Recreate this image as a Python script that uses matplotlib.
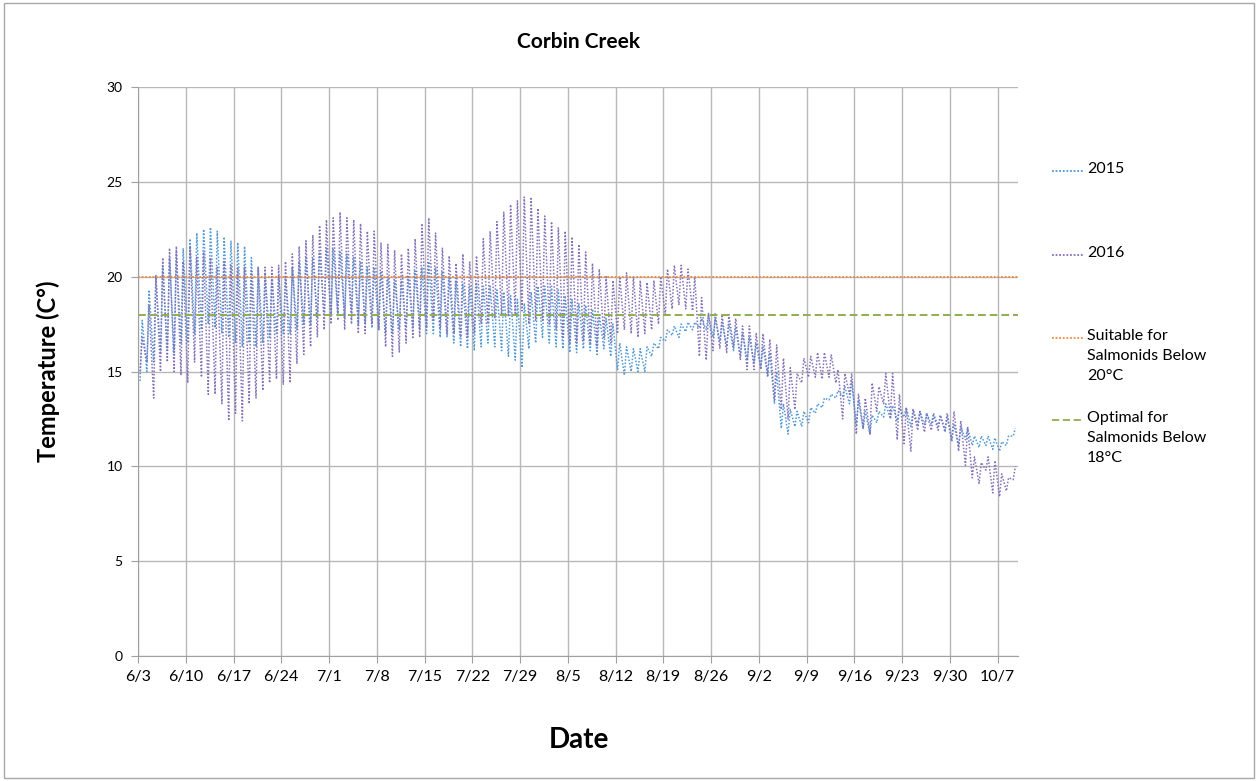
import matplotlib
matplotlib.use("Agg")
import matplotlib.pyplot as plt
import numpy as np
from matplotlib.lines import Line2D
from matplotlib.patches import Rectangle

plt.rcParams['font.family'] = ['Lato', 'DejaVu Sans']

# daily min / max temperatures (C), one value per day starting 6/3
# 2015
hi_2015 = [17.7, 19.3, 20.0, 20.5, 21.0, 21.3, 21.5, 22.0, 22.3, 22.5, 22.6, 22.4, 22.1, 21.9,
           21.8, 21.6, 21.0, 20.5, 20.2, 20.0, 20.0, 20.0, 20.5, 20.8, 21.0, 21.0, 21.3, 21.5,
           21.5, 21.3, 21.2, 21.0, 20.8, 20.5, 20.5, 20.3, 20.0, 19.8, 19.8, 20.0, 20.3, 20.5,
           20.8, 20.5, 20.3, 20.0, 19.8, 19.6, 19.5, 19.7, 19.5, 19.5, 19.3, 19.2, 19.0, 18.8,
           18.6, 19.2, 19.5,
           19.5, 19.5, 19.3, 19.0, 18.8, 18.6, 18.5, 18.3, 18.0, 17.8, 17.5, 16.5, 16.3, 16.2,
           16.2, 16.3, 16.5, 16.8, 17.2, 17.4, 17.5, 17.6, 17.6, 17.8, 18.0, 17.8, 17.6, 17.5,
           17.3, 17.0, 16.8,
           16.5, 16.3, 16.0, 15.0, 13.3, 13.0, 12.9, 12.9, 13.1, 13.3, 13.6, 13.8, 14.0, 14.2,
           14.5, 13.5, 12.9, 12.7, 12.9, 13.3, 13.2, 13.1, 13.1, 13.0, 12.9, 12.8, 12.8, 12.7,
           12.6, 12.2,
           12.1, 12.0, 11.6, 11.6, 11.6, 11.5, 11.3, 11.6, 12.0]
lo_2015 = [14.5, 15.0, 15.5, 16.0, 16.2, 16.0, 16.5, 16.5, 17.0, 17.2, 17.5, 17.3, 17.0, 16.8,
           16.5, 16.3, 16.5, 16.3, 16.5, 16.8, 17.0, 17.0, 17.0, 17.2, 17.5, 17.5, 17.8, 18.0,
           18.0, 18.0, 17.8, 17.8, 17.5, 17.5, 17.3, 17.2, 17.0, 17.0, 17.2, 17.3, 17.3, 17.2,
           17.0, 17.0, 16.8, 16.8, 16.5, 16.3, 16.2, 16.1, 16.3, 16.5, 16.3, 16.1, 15.8, 15.6,
           15.2, 16.2, 16.5,
           16.8, 16.5, 16.3, 16.2, 16.0, 16.0, 16.2, 16.1, 15.9, 16.2, 15.8, 15.1, 14.8, 15.0,
           15.0, 15.0, 15.8, 16.2, 16.6, 16.9, 16.8, 17.1, 17.2, 17.3, 17.2, 16.8, 16.6, 16.3,
           16.1, 15.8, 15.6,
           15.5, 15.2, 14.8, 13.3, 12.0, 11.7, 12.1, 12.1, 12.3, 12.8, 13.1, 13.5, 13.6, 13.7,
           13.3, 12.2, 12.0, 11.7, 12.3, 12.6, 12.5, 12.4, 12.6, 12.1, 12.2, 12.2, 12.2, 12.1,
           11.8, 11.3,
           11.1, 11.4, 11.1, 11.0, 11.1, 10.9, 10.8, 11.1, 11.6]

# 2016
hi_2016 = [16.8, 18.5, 20.1, 21.0, 21.5, 21.6, 20.8, 21.6, 21.0, 21.3, 21.0, 20.5, 20.8, 20.6,
           20.5, 20.5, 20.3, 20.5, 20.5, 20.5, 20.6, 20.8, 21.2, 21.6, 21.9, 22.2, 22.7, 23.0,
           23.1, 23.4, 23.1, 23.0, 22.8, 22.4, 22.4, 21.8, 21.7, 21.4, 21.2, 21.5, 22.0, 22.8,
           23.1, 22.3, 21.5, 21.1, 20.7, 21.2, 20.8, 21.1, 22.0, 22.4, 22.9, 23.4, 23.8, 24.0,
           24.2, 24.2, 23.6,
           23.2, 22.9, 22.6, 22.4, 22.1, 21.7, 21.3, 20.7, 20.4, 20.0, 19.8, 20.0, 20.2, 20.0,
           19.8, 19.7, 19.8, 20.0, 20.4, 20.6, 20.6, 20.4, 20.0, 18.9, 18.1, 18.1, 18.0, 18.0,
           17.8, 17.4, 17.4,
           17.0, 17.0, 16.7, 16.4, 15.7, 15.2, 14.9, 15.7, 15.8, 16.0, 16.0, 15.9, 15.1, 14.9,
           14.9, 13.8, 13.6, 14.4, 14.2, 14.9, 14.9, 13.8, 13.1, 13.0, 12.9, 12.8, 12.7, 12.7,
           12.8, 12.9,
           12.4, 12.1, 10.5, 10.2, 10.5, 10.3, 9.6, 9.4, 10.0]
lo_2016 = [15.0, 15.5, 13.6, 15.0, 15.5, 15.0, 14.8, 14.4, 15.5, 14.7, 13.8, 13.8, 13.3, 12.4,
           12.8, 12.4, 13.3, 13.6, 14.0, 14.4, 14.6, 14.3, 14.4, 15.4, 15.9, 16.3, 16.8, 17.2,
           17.5, 17.7, 17.2, 17.5, 17.0, 17.0, 17.5, 17.2, 16.3, 15.8, 16.0, 16.5, 16.8, 16.8,
           17.3, 17.7, 17.3, 17.0, 17.0, 16.8, 16.8, 17.0, 17.5, 17.5, 17.8, 18.0, 17.9, 18.0,
           18.2, 17.5, 17.7,
           17.7, 17.5, 17.2, 16.8, 16.5, 16.5, 16.6, 16.5, 16.3, 16.8, 16.5, 17.0, 17.2, 17.0,
           16.8, 17.0, 17.2, 17.5, 18.0, 18.3, 18.5, 18.3, 18.2, 15.8, 15.6, 16.1, 16.2, 16.0,
           16.3, 15.6, 15.1,
           15.1, 15.1, 14.7, 13.5, 13.0, 12.5, 13.0, 14.4, 14.7, 14.7, 14.6, 14.7, 14.4, 12.5,
           13.8, 11.7, 12.0, 11.7, 12.9, 13.3, 12.6, 11.4, 11.2, 10.8, 11.9, 11.8, 11.9, 11.9,
           11.9, 11.4,
           10.8, 10.05, 9.4, 9.1, 9.8, 8.6, 8.4, 8.7, 9.3]

date_labels = ['6/3', '6/10', '6/17', '6/24', '7/1', '7/8', '7/15', '7/22', '7/29', '8/5',
               '8/12', '8/19', '8/26', '9/2', '9/9', '9/16', '9/23', '9/30', '10/7']
suitable = 20
optimal = 18

c2015 = '#4f97d6'
c2016 = '#8470b8'
c_suit = '#f0883e'
c_opt = '#8fae4e'
grid_c = '#b8b8b8'


def daily_cycle(lo, hi):
    # morning minimum, afternoon maximum for every day
    days = np.arange(len(lo))
    x = np.empty(2 * len(lo))
    y = np.empty(2 * len(lo))
    x[0::2] = days + 0.3
    x[1::2] = days + 0.62
    y[0::2] = lo
    y[1::2] = hi
    return x, y


fig = plt.figure(figsize=(12.58, 7.81), dpi=100)
ax = fig.add_axes([0.1097, 0.16, 0.6995, 0.7286])

x15, y15 = daily_cycle(lo_2015, hi_2015)
x16, y16 = daily_cycle(lo_2016, hi_2016)
ax.plot(x15, y15, color=c2015, linestyle=(0, (1, 1.2)), linewidth=1.1)
ax.plot(x16, y16, color=c2016, linestyle=(0, (1, 1.2)), linewidth=1.1)
ax.axhline(suitable, color=c_suit, linestyle=(0, (1, 1)), linewidth=1.3)
ax.axhline(optimal, color=c_opt, linestyle=(0, (4, 2)), linewidth=1.4)

n_days = len(lo_2015)
ax.set_xlim(0, n_days)
ax.set_ylim(0, 30)
ax.set_yticks(np.arange(0, 31, 5))
ax.set_xticks(np.arange(len(date_labels)) * 7, date_labels)

ax.grid(True, color=grid_c, linewidth=1)
ax.set_axisbelow(True)
for s in ['top', 'right']:
    ax.spines[s].set_visible(False)
for s in ['left', 'bottom']:
    ax.spines[s].set_color('#a0a0a0')
ax.tick_params(axis='x', length=5, color='#a0a0a0', labelsize=11.5, pad=5)
ax.tick_params(axis='y', length=5, color='#a0a0a0', labelsize=10, pad=6)

fig.text(0.46, 0.946, 'Corbin Creek', ha='center', va='center', fontsize=15, fontweight='bold')
fig.text(0.46, 0.0525, 'Date', ha='center', va='center', fontsize=20, fontweight='bold')
fig.text(0.038, 0.525, 'Temperature (C°)', ha='center', va='center', rotation=90,
         fontsize=17, fontweight='bold')

# legend, Excel style at the right
legend_rows = [
    (0.781, c2015, (0, (1, 1)), '2015'),
    (0.673, c2016, (0, (1, 1)), '2016'),
    (0.567, c_suit, (0, (1, 1)), 'Suitable for\nSalmonids Below\n20°C'),
    (0.462, c_opt, (0, (4, 2)), 'Optimal for\nSalmonids Below\n18°C'),
]
for ly, col, ls, lab in legend_rows:
    fig.add_artist(Line2D([0.836, 0.861], [ly, ly], color=col, linestyle=ls, linewidth=1.3))
    fig.text(0.864, ly + 0.012, lab, ha='left', va='top', fontsize=11.5, linespacing=1.55)

fig.add_artist(Rectangle((0.003, 0.004), 0.994, 0.992, fill=False, edgecolor='#a8a8a8',
                         linewidth=1, transform=fig.transFigure))

fig.savefig('out.png', dpi=100)
